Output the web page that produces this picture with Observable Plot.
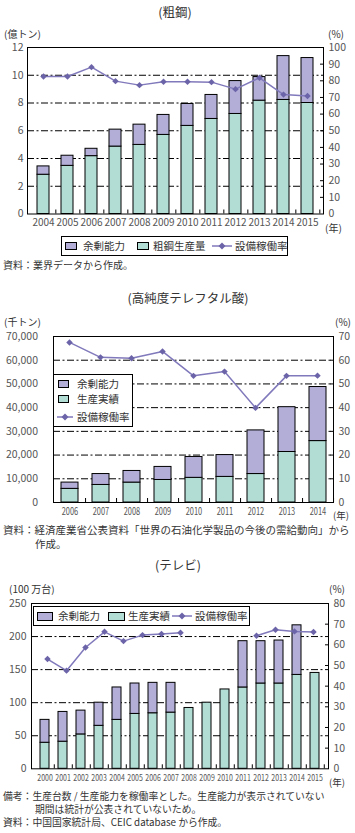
<!DOCTYPE html>
<html><head><meta charset="utf-8">
<script src="https://cdn.jsdelivr.net/npm/d3@7"></script>
<script src="https://cdn.jsdelivr.net/npm/@observablehq/plot@0.6"></script>
<style>
body{margin:0;background:#fff;}
#root{position:relative;width:355px;height:833px;font-family:"Noto Sans CJK JP",sans-serif;color:#333;overflow:hidden;}
.t{position:absolute;white-space:nowrap;line-height:1;}
.layer{position:absolute;left:0;}
.box{position:absolute;border:1px solid #000;background:#fff;box-sizing:border-box;}
.sw{position:absolute;border:1px solid #000;box-sizing:border-box;}
</style></head><body><div id="root"></div>
<script>
// ---------- data ----------
const steelYears = [2004, 2005, 2006, 2007, 2008, 2009, 2010, 2011, 2012, 2013, 2014, 2015];
const steelProduction = [2.83, 3.47, 4.17, 4.86, 4.98, 5.70, 6.35, 6.85, 7.21, 8.17, 8.22, 8.00];
const steelSurplus = [0.60, 0.73, 0.53, 1.22, 1.46, 1.44, 1.58, 1.73, 2.37, 1.70, 3.16, 3.24];
const steelRate = [82.6, 82.6, 88.2, 79.8, 77.4, 79.4, 79.4, 79.2, 75.0, 81.8, 71.7, 70.9];
const steelLeftTicks = [0, 2, 4, 6, 8, 10, 12];
const steelRightTicks = [0, 10, 20, 30, 40, 50, 60, 70, 80, 90, 100];

const ptaYears = [2006, 2007, 2008, 2009, 2010, 2011, 2012, 2013, 2014];
const ptaProduction = [5750, 7400, 8400, 9500, 10400, 10800, 12000, 21300, 25900];
const ptaSurplus = [2650, 4600, 4900, 5500, 8800, 9200, 18400, 18900, 22800];
const ptaRate = [67.5, 61.2, 60.8, 63.7, 53.4, 55.2, 39.9, 53.4, 53.5];
const ptaLeftTicks = [0, 10000, 20000, 30000, 40000, 50000, 60000, 70000];
const ptaRightTicks = [0, 10, 20, 30, 40, 50, 60, 70];

const tvYears = [2000, 2001, 2002, 2003, 2004, 2005, 2006, 2007, 2008, 2009, 2010, 2011, 2012, 2013, 2014, 2015];
const tvProduction = [39.4, 41, 52, 65, 74, 83, 84, 85, 92, 100, 120, 123, 129, 129, 142, 145];
const tvSurplus = [34.6, 45, 36, 35, 49, 46, 46, 45, null, null, null, 70, 64, 65, 75, null];
const tvRateYears = [2000, 2001, 2002, 2003, 2004, 2005, 2006, 2007, 2008, 2009, 2010, 2011, 2012, 2013, 2014];
const tvRate = [53.1, 47.5, 58.7, 66.3, 61.8, 64.7, 65.2, 65.8, null, null, null, 64.4, 67.3, 66.5, 66.2];
const tvLeftTicks = [0, 50, 100, 150, 200, 250];
const tvRightTicks = [0, 10, 20, 30, 40, 50, 60, 70, 80];

// ---------- style ----------
const LAV = "#b2aed8", MINT = "#b2ddd5", LINE = "#8079bb", MARK = "#6c64a9";
const FONT = '"Noto Sans CJK JP", sans-serif';
const TICKCOL = "#555";
const root = document.getElementById("root");

function T(s, x, y, size, align = "left", color) {
  const d = document.createElement("div");
  d.className = "t"; d.textContent = s;
  d.style.left = x + "px"; d.style.top = y + "px"; d.style.fontSize = size + "px";
  const ax = align === "center" ? "-50%" : align === "right" ? "-100%" : "0";
  d.style.transform = `translate(${ax},-50%)`;
  if (color) d.style.color = color;
  root.appendChild(d); return d;
}
function box(x, y, w, h) {
  const d = document.createElement("div"); d.className = "box";
  Object.assign(d.style, {left: x + "px", top: y + "px", width: w + "px", height: h + "px"});
  root.appendChild(d);
}
function swatch(x, y, w, h, c) {
  const d = document.createElement("div"); d.className = "sw";
  Object.assign(d.style, {left: x + "px", top: (y - h / 2) + "px", width: w + "px", height: h + "px", background: c});
  root.appendChild(d);
}
function lineSym(x, y, w) {
  const ns = "http://www.w3.org/2000/svg";
  const s = document.createElementNS(ns, "svg");
  s.setAttribute("width", w); s.setAttribute("height", 10);
  s.style.position = "absolute"; s.style.left = x + "px"; s.style.top = (y - 5) + "px";
  s.innerHTML = `<line x1="0" x2="${w}" y1="5" y2="5" stroke="${LINE}" stroke-width="1.5"/><path d="M${w/2},1.5L${w/2+3.5},5L${w/2},8.5L${w/2-3.5},5Z" fill="${MARK}"/>`;
  root.appendChild(s);
}

function panel(cfg) {
  const {top, height, mt, mb, ml, mr, years, prod, surplus, yMax, leftTicks, leftFormat,
    rate, rateYears, rateMax, rightTicks, pInner, linePadding, xFont, xTextLength, xPad, leftPad, yFont} = cfg;
  const w = 355 - ml - mr;
  const step = w / years.length;
  const rows = years.map((y, i) => ({year: String(y), prod: prod[i], top: surplus[i] == null ? null : prod[i] + surplus[i]}));
  const grid = leftTicks.slice(1, -1);
  const base = Plot.plot({
    width: 355, height, marginTop: mt, marginBottom: mb, marginLeft: ml, marginRight: mr,
    style: {fontFamily: FONT, color: TICKCOL, background: "transparent"},
    x: {type: "band", domain: years.map(String), paddingInner: pInner, paddingOuter: pInner / 2, label: null},
    y: {domain: [0, yMax], label: null},
    marks: [
      Plot.gridY(grid, {stroke: "black", strokeOpacity: 1, strokeDasharray: "7,2.5,2,2.5"}),
      Plot.barY(rows, {x: "year", y1: 0, y2: "prod", fill: MINT, stroke: "black", strokeWidth: 1}),
      Plot.barY(rows.filter(d => d.top != null), {x: "year", y1: "prod", y2: "top", fill: LAV, stroke: "black", strokeWidth: 1}),
      Plot.axisY(leftTicks, {anchor: "left", tickSize: 0, tickPadding: leftPad, tickFormat: leftFormat, fontSize: yFont, label: null}),
      Plot.axisX({tickSize: 0, tickPadding: xPad, fontSize: xFont, label: null}),
      Plot.axisX({tickSize: -4, dx: step / 2, tickFormat: () => "", stroke: "black", label: null}),
      Plot.frame({stroke: "black"})
    ]
  });
  base.classList.add("layer"); base.style.top = top + "px";
  if (xTextLength) {
    base.querySelectorAll('g[aria-label="x-axis tick label"] text').forEach(t => {
      if (t.textContent) { t.setAttribute("textLength", xTextLength); t.setAttribute("lengthAdjust", "spacingAndGlyphs"); }
    });
  }
  root.appendChild(base);

  const rrows = rateYears.map((y, i) => ({year: String(y), rate: rate[i]}));
  const over = Plot.plot({
    width: 355, height, marginTop: mt, marginBottom: mb, marginLeft: ml, marginRight: mr,
    style: {fontFamily: FONT, color: TICKCOL, background: "transparent"},
    x: {type: "point", domain: rateYears.map(String), padding: linePadding, axis: null},
    y: {domain: [0, rateMax], label: null},
    marks: [
      Plot.line(rrows, {x: "year", y: "rate", stroke: LINE, strokeWidth: 1.5}),
      Plot.dot(rrows.filter(d => d.rate != null), {x: "year", y: "rate", symbol: "diamond2", r: 2.9, fill: MARK, stroke: "none"}),
      Plot.axisY(rightTicks, {anchor: "right", tickSize: 0, tickPadding: 5, fontSize: yFont, label: null}),
      Plot.axisY(rightTicks.slice(1, -1), {anchor: "right", tickSize: -4, tickPadding: 0, tickFormat: () => "", stroke: "black", label: null})
    ]
  });
  over.classList.add("layer"); over.style.top = top + "px"; over.style.pointerEvents = "none";
  root.appendChild(over);
}

// ---------- panel 1: 粗鋼 ----------
T("(粗鋼)", 175, 12, 12.5, "center");
T("(億トン)", 4, 33.5, 10);
T("(%)", 328, 33.5, 10);
panel({top: 37, height: 196, mt: 10, mb: 19.5, ml: 27, mr: 32,
  years: steelYears, prod: steelProduction, surplus: steelSurplus, yMax: 12, leftTicks: steelLeftTicks,
  leftFormat: d => String(d), rate: steelRate, rateYears: steelYears, rateMax: 100, rightTicks: steelRightTicks,
  pInner: 0.49, linePadding: 0.5, xFont: 10, xPad: 5, leftPad: 4, yFont: 10.5});
T("(年)", 325, 228, 10);
box(61, 236, 227, 20);
swatch(65, 246, 12, 8, LAV); T("余剰能力", 83, 246, 10.5);
swatch(137, 246, 12, 8, MINT); T("粗鋼生産量", 153, 246, 10.5);
lineSym(212, 246, 20); T("設備稼働率", 235, 246, 10.5);
T("資料：業界データから作成。", 3, 265, 10);

// ---------- panel 2: 高純度テレフタル酸 ----------
T("(高純度テレフタル酸)", 188, 298, 12.5, "center");
T("(千トン)", 4, 322, 10);
T("(%)", 335, 322, 10);
panel({top: 326, height: 196, mt: 10, mb: 20, ml: 53, mr: 22,
  years: ptaYears, prod: ptaProduction, surplus: ptaSurplus, yMax: 70000, leftTicks: ptaLeftTicks,
  leftFormat: d3.format(","), rate: ptaRate, rateYears: ptaYears, rateMax: 70, rightTicks: ptaRightTicks,
  pInner: 0.46, linePadding: 0.5, xFont: 10, xTextLength: 16.5, xPad: 5, leftPad: 15.5, yFont: 10.5});
T("(年)", 333, 515.5, 9.5);
box(53, 374, 80, 53);
swatch(58, 384, 11, 8, LAV); T("余剰能力", 77, 384, 10.5);
swatch(58, 399, 11, 8, MINT); T("生産実績", 77, 399, 10.5);
lineSym(57, 417, 16); T("設備稼働率", 77, 417, 10.5);
T("資料：経済産業省公表資料「世界の石油化学製品の今後の需給動向」から", 3, 529.5, 10.5);
T("作成。", 35, 544, 10.5);

// ---------- panel 3: テレビ ----------
T("(テレビ)", 178, 565, 12.5, "center");
T("(100 万台)", 9, 588.5, 10);
T("(%)", 329, 588.5, 10);
panel({top: 593, height: 195, mt: 10, mb: 19.7, ml: 31, mr: 27,
  years: tvYears, prod: tvProduction, surplus: tvSurplus, yMax: 250, leftTicks: tvLeftTicks,
  leftFormat: d => String(d), rate: tvRate, rateYears: tvRateYears, rateMax: 80, rightTicks: tvRightTicks,
  pInner: 0.48, linePadding: 0.4667, xFont: 8.5, xTextLength: 15.5, xPad: 6.5, leftPad: 5, yFont: 10.5});
T("(年)", 329, 783, 9.5);
box(33, 606, 217, 20);
swatch(37, 616, 16, 9, LAV); T("余剰能力", 58, 616, 10.5);
swatch(108, 616, 17, 9, MINT); T("生産実績", 128, 616, 10.5);
lineSym(172, 616, 20); T("設備稼働率", 195, 616, 10.5);
T("備考：生産台数 / 生産能力を稼働率とした。生産能力が表示されていない", 3, 796.5, 9.8);
T("期間は統計が公表されていないため。", 35, 809.5, 9.8);
T("資料：中国国家統計局、CEIC database から作成。", 3, 823, 9.8);
</script></body></html>
